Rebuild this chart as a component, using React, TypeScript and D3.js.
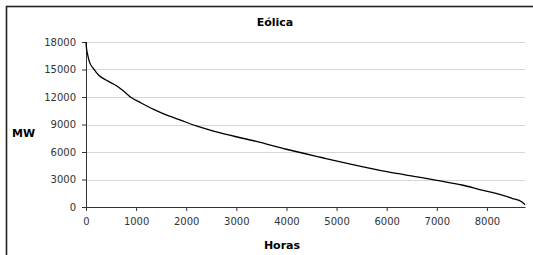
import React, { useRef, useEffect } from 'react';
import * as d3 from 'd3';

// curva de duración eólica (horas ordenadas, MW)
const hours = [0, 10, 30, 70, 150, 250, 400, 600, 750, 900, 1100, 1350, 1600, 1900, 2200, 2700, 3400, 4000, 4700, 5300, 6000, 6700, 7000, 7500, 7900, 8200, 8500, 8700, 8760];
const mw = [18000, 17300, 16700, 15800, 15100, 14400, 13850, 13250, 12650, 11950, 11350, 10650, 10050, 9450, 8850, 8050, 7150, 6300, 5400, 4650, 3850, 3200, 2900, 2400, 1850, 1450, 950, 550, 250];
const yTicks = [0, 3000, 6000, 9000, 12000, 15000, 18000];
const xTicks = [0, 1000, 2000, 3000, 4000, 5000, 6000, 7000, 8000];
const title = 'Eólica';
const xLabel = 'Horas';
const yLabel = 'MW';

const width = 533;
const height = 255;
const margin = { top: 42, right: 8, bottom: 48, left: 86 };
const font = '"DejaVu Sans", Verdana, sans-serif';

const App = () => {
  const svgRef = useRef(null);

  useEffect(() => {
    document.body.style.margin = '0';
    const svg = d3.select(svgRef.current);
    svg.selectAll('*').remove();

    const innerWidth = width - margin.left - margin.right;
    const innerHeight = height - margin.top - margin.bottom;

    const x = d3.scaleLinear().domain([0, 8760]).range([0, innerWidth]);
    const y = d3.scaleLinear().domain([0, 18000]).range([innerHeight, 0]);

    // marco
    svg.append('rect')
      .attr('x', 6.5).attr('y', 6.5)
      .attr('width', 700).attr('height', 400)
      .attr('fill', '#fff')
      .attr('stroke', '#222')
      .attr('stroke-width', 1.6);

    const g = svg.append('g').attr('transform', `translate(${margin.left},${margin.top})`);

    // rejilla
    g.selectAll('.grid')
      .data(yTicks.filter(d => d > 0))
      .enter()
      .append('line')
      .attr('x1', 0).attr('x2', innerWidth)
      .attr('y1', d => Math.round(y(d)) + 0.5).attr('y2', d => Math.round(y(d)) + 0.5)
      .attr('stroke', '#d6d6d6')
      .attr('stroke-width', 1);

    // eje Y
    const yAxis = g.append('g').call(d3.axisLeft(y).tickValues(yTicks).tickSize(4).tickPadding(6).tickFormat(d3.format('d')));
    yAxis.select('.domain').attr('stroke', '#333');
    yAxis.selectAll('.tick line').attr('stroke', '#333');
    yAxis.selectAll('text').attr('font-family', font).attr('font-size', 10).attr('fill', '#333');

    // eje X
    const xAxis = g.append('g')
      .attr('transform', `translate(0,${innerHeight})`)
      .call(d3.axisBottom(x).tickValues(xTicks).tickSize(4).tickSizeOuter(0).tickPadding(7).tickFormat(d3.format('d')));
    xAxis.select('.domain').attr('stroke', '#333');
    xAxis.selectAll('.tick line').attr('stroke', '#333');
    xAxis.selectAll('text').attr('font-family', font).attr('font-size', 10).attr('fill', '#333');

    // curva
    const line = d3.line()
      .x((d, i) => x(hours[i]))
      .y(d => y(d))
      .curve(d3.curveMonotoneX);

    g.append('path')
      .datum(mw)
      .attr('fill', 'none')
      .attr('stroke', '#000')
      .attr('stroke-width', 1.3)
      .attr('d', line);

    // textos
    svg.append('text')
      .attr('x', 275).attr('y', 26)
      .attr('text-anchor', 'middle')
      .attr('font-family', font).attr('font-size', 11).attr('font-weight', 'bold')
      .text(title);

    svg.append('text')
      .attr('x', 282).attr('y', 249)
      .attr('text-anchor', 'middle')
      .attr('font-family', font).attr('font-size', 11).attr('font-weight', 'bold')
      .text(xLabel);

    svg.append('text')
      .attr('x', 12).attr('y', 137)
      .attr('font-family', font).attr('font-size', 11).attr('font-weight', 'bold')
      .text(yLabel);
  }, []);

  return <svg ref={svgRef} width={width} height={height} style={{ display: 'block' }} />;
};

export default App;
